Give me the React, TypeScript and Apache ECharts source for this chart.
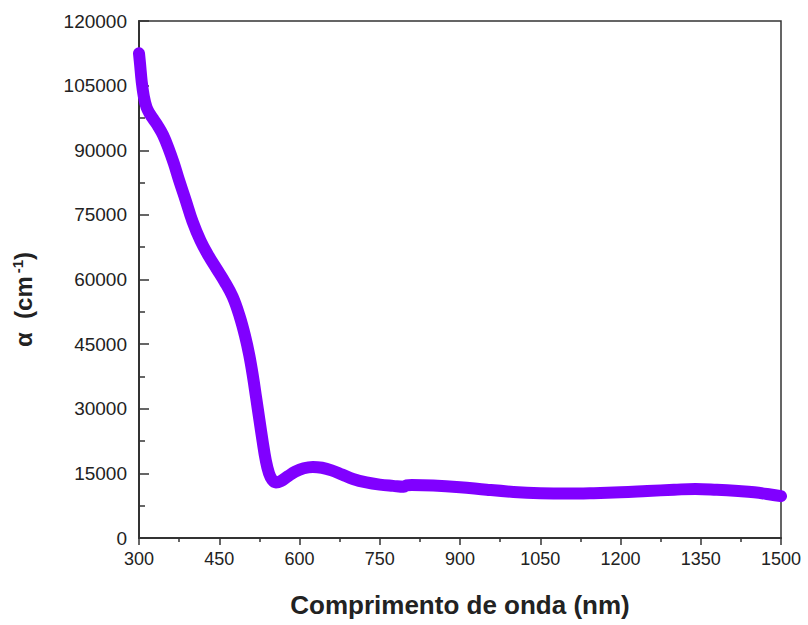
import React, { useEffect, useRef } from "react";
import * as echarts from "echarts";

const wavelength = [
  300, 302, 305, 309, 314, 320, 328, 336, 345, 355, 365, 375, 387, 400, 415, 430, 445, 460, 475, 488,
  498, 506, 513, 519, 525, 531, 537, 543, 549, 556, 565, 578, 592, 608, 625, 642, 660, 680, 700, 725,
  750, 775, 795, 800, 810, 850, 900, 950, 1000, 1050, 1100, 1150, 1200, 1250, 1300, 1340, 1380, 1420,
  1450, 1480, 1500,
];
const alpha = [
  112500, 110000, 106000, 102500, 100000, 98500, 97000, 95500, 93500, 90500, 87000, 83000, 78500, 73500, 69000, 65500, 62500, 59500, 56000, 51500,
  47000, 42500, 37500, 32500, 27500, 22500, 18000, 15000, 13500, 12900, 13200, 14300, 15400, 16200, 16500, 16300, 15700, 14700, 13700, 12900,
  12400, 12100, 11900, 12200, 12300, 12200, 11800, 11200, 10700, 10400, 10300, 10400, 10600, 10900, 11200, 11400, 11200, 10900,
  10600, 10100, 9700,
];

export default function App() {
  const ref = useRef<HTMLDivElement>(null);
  useEffect(() => {
    if (!ref.current) return;
    const chart = echarts.init(ref.current, undefined, { renderer: "svg" });
    const data = wavelength.map((w, i) => [w, alpha[i]]);
    chart.setOption({
      animation: false,
      backgroundColor: "#ffffff",
      textStyle: { fontFamily: "Liberation Sans, Arial, sans-serif" },
      grid: {
        left: 139,
        right: 27,
        top: 21,
        bottom: 87,
        show: true,
        borderColor: "#333",
        borderWidth: 1.5,
      },
      xAxis: {
        type: "value",
        min: 300,
        max: 1500,
        interval: 150,
        name: "Comprimento de onda (nm)",
        nameLocation: "middle",
        nameGap: 54,
        nameTextStyle: { fontSize: 26, fontWeight: "bold", color: "#222" },
        axisLine: { show: true, lineStyle: { color: "#333", width: 2 } },
        axisTick: { show: true, inside: false, length: 7, lineStyle: { color: "#333", width: 1.5 } },
        minorTick: { show: true, splitNumber: 2, length: 4, lineStyle: { color: "#333", width: 1.5 } },
        axisLabel: { fontSize: 18, color: "#222", margin: 12, formatter: (v: number) => String(v) },
        splitLine: { show: false },
      },
      yAxis: {
        type: "value",
        min: 0,
        max: 120000,
        interval: 15000,
        name: "{a|α  (cm}{sup|-1}{a|)}",
        nameLocation: "middle",
        nameGap: 102,
        nameTextStyle: {
          padding: [0, 40, 0, 0],
          rich: {
            a: { fontSize: 24, fontWeight: "bold", color: "#222" },
            sup: { fontSize: 15, fontWeight: "bold", color: "#222", verticalAlign: "top", padding: [0, 0, 12, 3] },
          },
        },
        axisLine: { show: true, lineStyle: { color: "#333", width: 2 } },
        axisTick: { show: true, inside: true, length: 10, lineStyle: { color: "#333", width: 1.5 } },
        minorTick: { show: true, splitNumber: 2, length: 6, lineStyle: { color: "#333", width: 1.5 } },
        axisLabel: { fontSize: 19, color: "#222", margin: 12, formatter: (v: number) => String(v) },
        splitLine: { show: false },
      },
      series: [
        {
          type: "line",
          data,
          smooth: 0.4,
          showSymbol: false,
          lineStyle: { color: "#8000ff", width: 12, cap: "round", join: "round" },
        },
      ],
    });
    return () => chart.dispose();
  }, []);
  return <div ref={ref} style={{ position: "fixed", left: 0, top: 0, width: 808, height: 625 }} />;
}
